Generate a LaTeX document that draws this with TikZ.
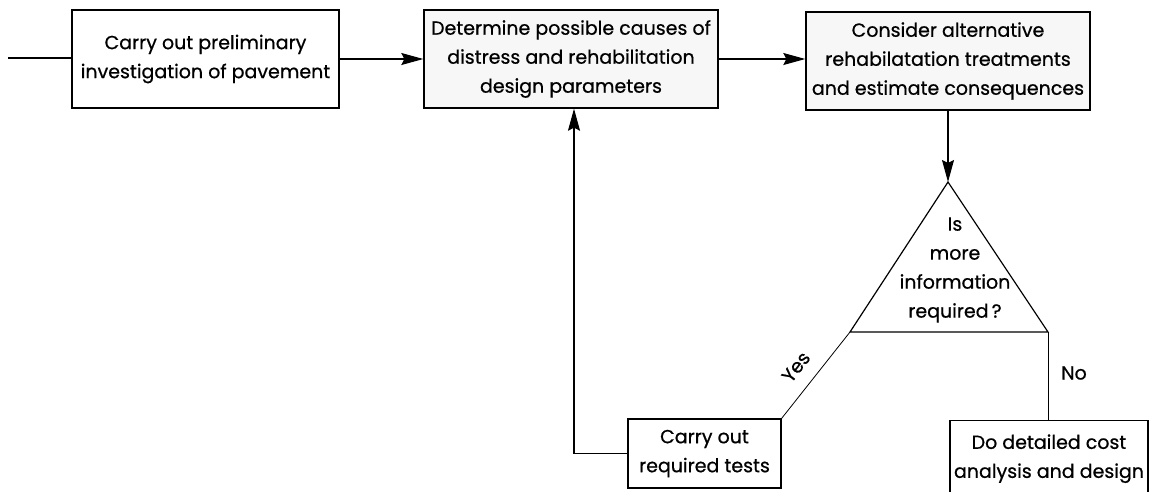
\documentclass[tikz,border=0pt]{standalone}
\usepackage{fontspec}
\setmainfont{Poppins}[FakeBold=0.7]
\usetikzlibrary{arrows.meta}
\begin{document}
\begin{tikzpicture}[x=1pt,y=-1pt,
  every node/.style={font=\fontsize{19}{29}\selectfont, inner sep=0pt},
  stepbox/.style={draw, line width=1.4pt, align=center},
  shaded/.style={fill=black!3},
  link/.style={line width=1.1pt},
  thin link/.style={line width=0.8pt},
  arr/.style={link, -{Stealth[length=22pt,width=12pt,inset=3pt]}}]
\useasboundingbox (0,0) rectangle (1157,491);
\clip (0,0) rectangle (1157,491);

% main row of boxes
\node[stepbox, minimum width=267pt, minimum height=98pt] (prelim) at (205.5,59)
  {Carry out preliminary\\investigation of pavement};
\node[stepbox, shaded, minimum width=294pt, minimum height=98pt] (causes) at (571,59)
  {Determine possible causes of\\distress and rehabilitation\\design parameters};
\node[stepbox, shaded, minimum width=284pt, minimum height=98pt] (alts) at (948,61)
  {Consider alternative\\rehabilatation treatments\\and estimate consequences};

% decision triangle
\coordinate (apex) at (948,182);
\coordinate (bl) at (850,332);
\coordinate (br) at (1048,332);
\draw[line width=1.2pt, line join=miter] (apex) -- (br) -- (bl) -- cycle;
\node[align=center] (question) at (955,270)
  {Is\\more\\information\\required\,?};

% outcome boxes
\node[stepbox, minimum width=153pt, minimum height=69pt] (tests) at (704.5,453.5)
  {Carry out\\required tests};
\node[stepbox, anchor=north, minimum width=198pt, minimum height=76pt] (detail) at (1049,420)
  {Do detailed cost\\analysis and design};

% connectors
\coordinate (start) at (8,58);
\draw[link] (start) -- (prelim.west |- start);
\draw[arr] (prelim.east) -- (causes.west);
\draw[arr] (causes.east) -- (causes.east -| alts.west);
\draw[arr] (alts.south) -- (apex);
\draw[thin link] (bl) -- (tests.north east);
\node[rotate=52] (yes) at (796,367) {Yes};
\draw[thin link] (br) -- (br |- detail.north);
\node (no) at (1074,373) {No};
\draw[arr] (tests.west) -| ([xshift=3pt]causes.south);
\end{tikzpicture}
\end{document}
